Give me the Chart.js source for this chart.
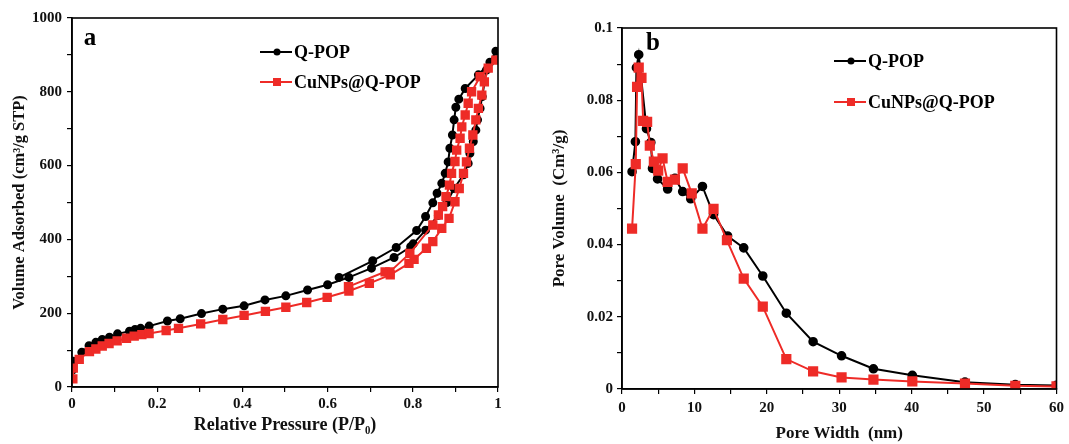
<!DOCTYPE html>
<html>
<head>
<meta charset="utf-8">
<script src="https://cdn.jsdelivr.net/npm/chart.js@4.4.0/dist/chart.umd.min.js"></script>
<style>
  body { margin: 0; background: #fff; width: 1069px; height: 444px; overflow: hidden; }
  .panel { position: absolute; top: 0; }
</style>
</head>
<body>
<div class="panel" style="left:0px"><canvas id="chartA" width="530" height="444"></canvas></div>
<div class="panel" style="left:540px"><canvas id="chartB" width="529" height="444"></canvas></div>
<script>
const FONT = "'Liberation Serif', 'Times New Roman', serif";
const RED = '#ee2b27';

// (a) N2 isotherms: adsorption branch then desorption branch
const qpopAdsP = [0.001, 0.003, 0.023, 0.040, 0.056, 0.071, 0.088, 0.107, 0.135, 0.148, 0.161, 0.181, 0.224, 0.254, 0.304, 0.354, 0.404, 0.453, 0.502, 0.553, 0.600, 0.650, 0.703, 0.756, 0.795, 0.801, 0.830, 0.860, 0.880, 0.897, 0.919, 0.930, 0.934, 0.942, 0.948, 0.952, 0.958, 0.963, 0.973, 0.995];
const qpopAdsV = [46, 70, 94, 112, 121, 129, 135, 144, 151, 156, 159, 165, 179, 185, 199, 211, 220, 236, 247, 263, 277, 297, 322, 351, 380, 388, 425, 465, 500, 538, 575, 606, 633, 665, 696, 724, 755, 787, 859, 910];
const qpopDesP = [0.981, 0.954, 0.923, 0.908, 0.901, 0.897, 0.893, 0.887, 0.883, 0.876, 0.868, 0.857, 0.847, 0.830, 0.809, 0.761, 0.706, 0.627];
const qpopDesV = [880, 846, 809, 780, 758, 724, 683, 647, 610, 579, 552, 525, 499, 462, 424, 378, 342, 297];

const cuAdsP = [0.002, 0.003, 0.017, 0.041, 0.056, 0.071, 0.087, 0.106, 0.128, 0.146, 0.164, 0.181, 0.221, 0.250, 0.302, 0.354, 0.404, 0.454, 0.502, 0.551, 0.599, 0.650, 0.698, 0.747, 0.791, 0.803, 0.832, 0.847, 0.868, 0.885, 0.899, 0.909, 0.919, 0.926, 0.933, 0.941, 0.948, 0.954, 0.962, 0.968, 0.977, 0.995];
const cuAdsV = [22, 51, 75, 96, 103, 111, 118, 125, 132, 138, 142, 145, 153, 159, 171, 183, 194, 205, 216, 229, 243, 260, 281, 304, 335, 346, 376, 394, 430, 457, 502, 538, 579, 610, 647, 683, 724, 755, 791, 827, 864, 886];
const cuDesP = [0.958, 0.938, 0.930, 0.923, 0.915, 0.911, 0.903, 0.899, 0.891, 0.886, 0.878, 0.870, 0.860, 0.847, 0.793, 0.746, 0.735, 0.649];
const cuDesV = [841, 800, 769, 737, 705, 674, 642, 611, 579, 547, 516, 489, 466, 439, 362, 312, 312, 272];

// (b) pore size distribution
const qpopWidth = [1.39, 1.85, 1.99, 2.31, 3.38, 3.98, 4.21, 4.91, 6.30, 7.31, 8.38, 9.49, 11.11, 12.64, 14.58, 16.81, 19.44, 22.69, 26.39, 30.32, 34.72, 40.09, 47.36, 54.31, 60];
const qpopVol = [0.0602, 0.0685, 0.0890, 0.0926, 0.0721, 0.0683, 0.0611, 0.0582, 0.0554, 0.0584, 0.0547, 0.0527, 0.0561, 0.0483, 0.0424, 0.0391, 0.0313, 0.0210, 0.0131, 0.0092, 0.0056, 0.0038, 0.0019, 0.0012, 0.0010];
const cuWidth = [1.39, 1.90, 2.08, 2.31, 2.69, 2.92, 3.47, 3.84, 4.40, 5.00, 5.60, 6.30, 7.31, 8.38, 9.63, 11.11, 12.64, 14.49, 16.81, 19.44, 22.69, 26.39, 30.32, 34.72, 40.09, 47.36, 54.31, 60];
const cuVol = [0.0444, 0.0623, 0.0837, 0.0890, 0.0862, 0.0743, 0.0740, 0.0674, 0.0630, 0.0605, 0.0639, 0.0574, 0.0580, 0.0611, 0.0542, 0.0444, 0.0499, 0.0412, 0.0306, 0.0228, 0.0083, 0.0049, 0.0032, 0.0026, 0.0021, 0.0015, 0.0009, 0.0007];

const seriesNames = ['Q-POP', 'CuNPs@Q-POP'];

function toPoints(xs, ys) {
    return xs.map((x, i) => ({x: x, y: ys[i]}));
}

// box around the plot, the panel letter and the legend inside the plot
const framePlugin = {
    id: 'frame',
    afterDraw(chart, args, opts) {
        const ctx = chart.ctx;
        const a = chart.chartArea;
        ctx.save();
        ctx.strokeStyle = '#000';
        ctx.lineWidth = 1.6;
        ctx.strokeRect(a.left, a.top, a.right - a.left, a.bottom - a.top);

        ctx.fillStyle = '#000';
        ctx.font = 'bold 25px ' + FONT;
        ctx.textAlign = 'center';
        ctx.textBaseline = 'middle';
        ctx.fillText(opts.letter, opts.letterX, opts.letterY);

        ctx.font = 'bold 18px ' + FONT;
        ctx.textAlign = 'left';
        opts.legendY.forEach((y, i) => {
            const color = i === 0 ? '#000' : RED;
            const x0 = opts.legendX;
            ctx.strokeStyle = color;
            ctx.lineWidth = 2;
            ctx.beginPath();
            ctx.moveTo(x0, y);
            ctx.lineTo(x0 + 32, y);
            ctx.stroke();
            ctx.fillStyle = color;
            if (i === 0) {
                ctx.beginPath();
                ctx.arc(x0 + 17, y, 3.5, 0, Math.PI * 2);
                ctx.fill();
            } else {
                ctx.fillRect(x0 + 13, y - 4, 8, 8);
            }
            ctx.fillStyle = '#000';
            ctx.fillText(seriesNames[i], x0 + 34, y + 1);
        });
        ctx.restore();
    }
};

function axis(opts) {
    return {
        type: 'linear',
        min: opts.min,
        max: opts.max,
        border: {display: true, color: '#000', width: 1.6},
        grid: {drawOnChartArea: false, drawTicks: true, tickLength: 5, color: '#000', lineWidth: 1.2},
        ticks: {
            stepSize: opts.step,
            autoSkip: false,
            maxRotation: 0,
            padding: opts.tickPad,
            color: '#111',
            font: {family: FONT, size: 15, weight: 'bold'},
            callback: (v, i) => i % 2 === 0 ? String(Math.round(v * 1000) / 1000) : ''
        },
        title: {
            display: true,
            text: opts.title,
            color: '#111',
            font: {family: FONT, size: opts.titleSize, weight: 'bold'},
            padding: opts.titlePad
        },
        afterFit: opts.fit
    };
}

function makeChart(id, datasets, scales, padding, frame) {
    return new Chart(document.getElementById(id), {
        type: 'scatter',
        data: {datasets: datasets},
        options: {
            responsive: false,
            animation: false,
            layout: {padding: padding},
            plugins: {legend: {display: false}, tooltip: {enabled: false}, frame: frame},
            scales: scales
        },
        plugins: [framePlugin]
    });
}

function blackSet(points, r) {
    return {
        data: points, showLine: true, borderColor: '#000', backgroundColor: '#000',
        borderWidth: 2, pointStyle: 'circle', pointRadius: r, order: 2
    };
}
function redSet(points, r) {
    return {
        data: points, showLine: true, borderColor: RED, backgroundColor: RED,
        borderWidth: 2, pointStyle: 'rect', pointRadius: r, order: 1
    };
}

makeChart('chartA', [
    blackSet(toPoints(qpopAdsP.concat(qpopDesP), qpopAdsV.concat(qpopDesV)), 3.5),
    redSet(toPoints(cuAdsP.concat(cuDesP), cuAdsV.concat(cuDesV)), 5.2)
], {
    x: axis({min: 0, max: 1, step: 0.1, tickPad: 3, title: 'Relative Pressure (P/P\u2080)', titleSize: 18,
        titlePad: {top: 0, bottom: 8}, fit: s => { s.height = 57; }}),
    y: axis({min: 0, max: 1000, step: 100, tickPad: 5, title: 'Volume Adsorbed (cm\u00b3/g STP)', titleSize: 16.5,
        titlePad: {top: 10, bottom: 0}, fit: s => { s.width = 72; }})
}, {left: 0, right: 32, top: 18, bottom: 0},
{letter: 'a', letterX: 90, letterY: 39, legendX: 260, legendY: [52, 82]});

makeChart('chartB', [
    blackSet(toPoints(qpopWidth, qpopVol), 3.8),
    redSet(toPoints(cuWidth, cuVol), 5.8)
], {
    x: axis({min: 0, max: 60, step: 5, tickPad: 5, title: 'Pore Width  (nm)', titleSize: 17,
        titlePad: {top: 0, bottom: 0}, fit: s => { s.height = 55; }}),
    y: axis({min: 0, max: 0.1, step: 0.01, tickPad: 4, title: 'Pore Volume  (Cm\u00b3/g)', titleSize: 17,
        titlePad: {top: 9, bottom: 0}, fit: s => { s.width = 82; }})
}, {left: 0, right: 8, top: 28, bottom: 0},
{letter: 'b', letterX: 113, letterY: 44, legendX: 294, legendY: [61, 102]});
</script>
</body>
</html>
